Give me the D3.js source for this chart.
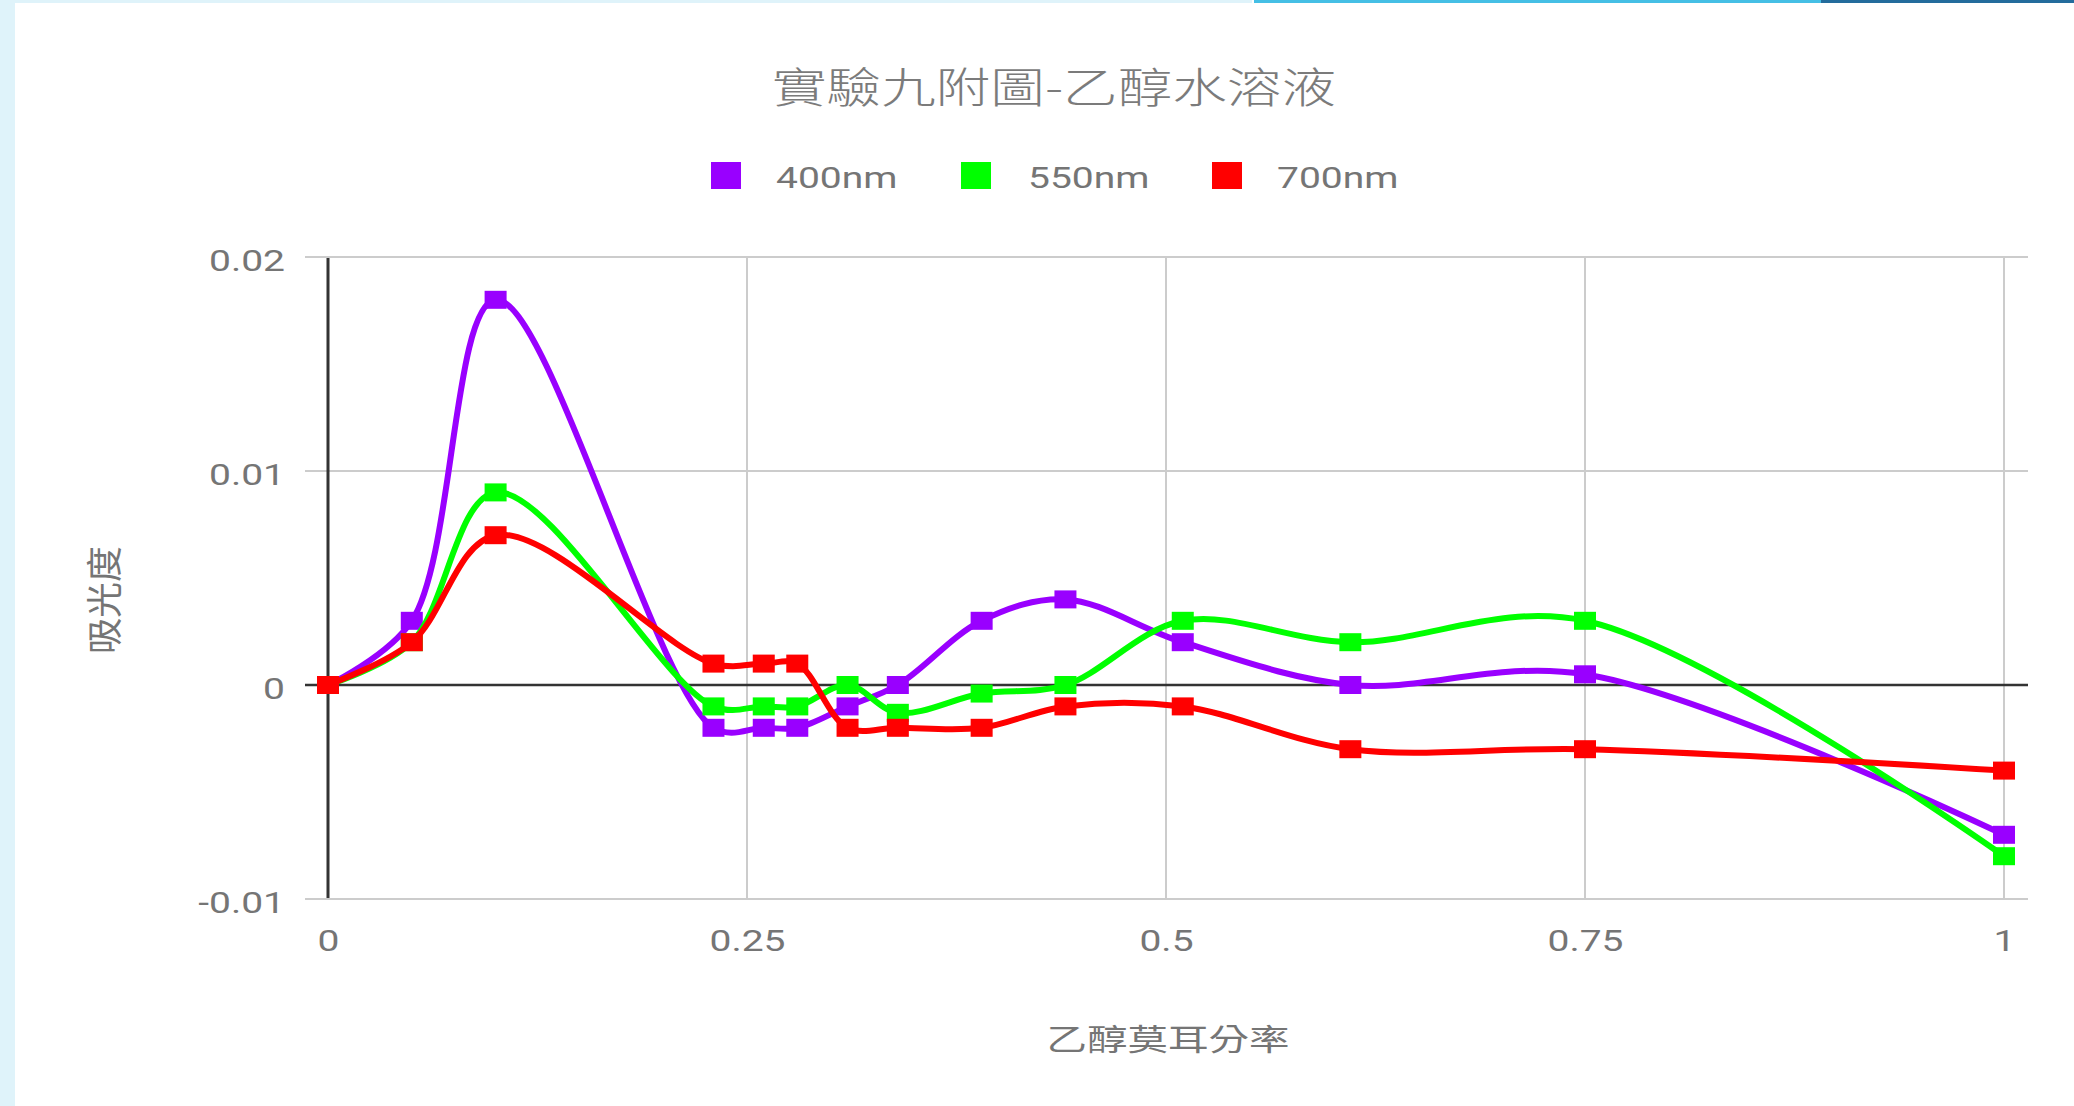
<!DOCTYPE html>
<html>
<head>
<meta charset="utf-8">
<script src="https://cdn.jsdelivr.net/npm/d3@7"></script>
<style>
  html, body { margin: 0; padding: 0; background: #ffffff; }
  svg { display: block; }
</style>
</head>
<body>
<script>
// Ethanol mole fraction (x) and absorbance readings at three wavelengths
const moleFraction = [0, 0.05, 0.10, 0.23, 0.26, 0.28, 0.31, 0.34, 0.39, 0.44, 0.51, 0.61, 0.75, 1];
const abs400 = [0, 0.003, 0.018, -0.002, -0.002, -0.002, -0.001, 0, 0.003, 0.004, 0.002, 0, 0.0005, -0.007];
const abs550 = [0, 0.002, 0.009, -0.001, -0.001, -0.001, 0, -0.0013, -0.0004, 0, 0.003, 0.002, 0.003, -0.008];
const abs700 = [0, 0.002, 0.007, 0.001, 0.001, 0.001, -0.002, -0.002, -0.002, -0.001, -0.001, -0.003, -0.003, -0.004];

const seriesNames = ["400nm", "550nm", "700nm"];
const seriesColors = ["#9900ff", "#00ff00", "#ff0000"];
const seriesValues = [abs400, abs550, abs700];

const xTickValues = [0, 0.25, 0.5, 0.75, 1];
const yTickValues = [-0.01, 0, 0.01, 0.02];

const chartTitle = "實驗九附圖-乙醇水溶液";
const xTitle = "乙醇莫耳分率";
const yTitle = "吸光度";

const W = 2074, H = 1106;
const STRETCH = 1.3;           // glyphs are drawn horizontally widened
const textGrey = "#757575";
const latin = "Roboto, 'Noto Sans', sans-serif";
const cjk = "'Noto Sans CJK TC', 'Noto Sans CJK SC', sans-serif";

const svg = d3.select("body").append("svg")
  .attr("width", W).attr("height", H);

// page frame strips
svg.append("rect").attr("x", 0).attr("y", 0).attr("width", 15).attr("height", H).attr("fill", "#dff3fa");
svg.append("rect").attr("x", 0).attr("y", 0).attr("width", 1252).attr("height", 3).attr("fill", "#dff3fa");
svg.append("rect").attr("x", 1254).attr("y", 0).attr("width", 567).attr("height", 3).attr("fill", "#45bfe5");
svg.append("rect").attr("x", 1821).attr("y", 0).attr("width", W - 1821).attr("height", 3).attr("fill", "#236c9c");

const x = d3.scaleLinear().domain([0, 1]).range([328, 2004]);
const y = d3.scaleLinear().domain([-0.01, 0.02]).range([899, 257]);

function stretchedText(g, px, py, str, opts) {
  return g.append("text")
    .attr("transform", `translate(${px},${py}) scale(${opts.sx || STRETCH},1)`)
    .attr("text-anchor", opts.anchor || "start")
    .attr("font-family", opts.family || latin)
    .attr("font-size", opts.size)
    .attr("font-weight", opts.weight || 400)
    .attr("fill", opts.fill || textGrey)
    .text(str);
}

// title
stretchedText(svg, 1054, 103, chartTitle, { anchor: "middle", family: cjk, size: 42, weight: 300, fill: "#7b7b7b" });

// legend
const legendSquareX = [711, 961, 1212];
const legendTextX = [776, 1028, 1277];
seriesNames.forEach((name, i) => {
  svg.append("rect")
    .attr("x", legendSquareX[i]).attr("y", 162)
    .attr("width", 30).attr("height", 27)
    .attr("fill", seriesColors[i]);
  stretchedText(svg, legendTextX[i], 188, name, { size: 30 });
});

// gridlines
const grid = svg.append("g");
grid.selectAll("line.h").data(yTickValues.filter(v => v !== 0)).join("line")
  .attr("x1", x(0) - 23).attr("x2", x(1) + 24)
  .attr("y1", d => y(d)).attr("y2", d => y(d))
  .attr("stroke", "#cccccc").attr("stroke-width", 2);
grid.selectAll("line.v").data(xTickValues.filter(v => v !== 0)).join("line")
  .attr("x1", d => x(d)).attr("x2", d => x(d))
  .attr("y1", y(0.02)).attr("y2", y(-0.01))
  .attr("stroke", "#cccccc").attr("stroke-width", 2);

// baselines
svg.append("line")
  .attr("x1", x(0) - 23).attr("x2", x(1) + 24)
  .attr("y1", y(0)).attr("y2", y(0))
  .attr("stroke", "#333333").attr("stroke-width", 2.5);
svg.append("line")
  .attr("x1", x(0)).attr("x2", x(0))
  .attr("y1", y(0.02) + 1).attr("y2", y(-0.01) - 1)
  .attr("stroke", "#333333").attr("stroke-width", 3);

// axis labels through d3 axes
const yAxis = svg.append("g")
  .attr("transform", "translate(285,0)")
  .call(d3.axisLeft(y).tickValues(yTickValues).tickSize(0)
    .tickFormat(d => String(+d.toFixed(3))));
yAxis.select(".domain").remove();
yAxis.selectAll("text")
  .attr("x", 0).attr("dy", null).attr("y", 13)
  .attr("text-anchor", "end")
  .attr("transform", `scale(${STRETCH},1)`)
  .attr("font-family", latin).attr("font-size", 30).attr("fill", textGrey);

const xAxis = svg.append("g")
  .attr("transform", "translate(0,951)")
  .call(d3.axisBottom(x).tickValues(xTickValues).tickSize(0)
    .tickFormat(d => String(d)));
xAxis.select(".domain").remove();
xAxis.selectAll("text")
  .attr("y", 0).attr("dy", null)
  .attr("text-anchor", "middle")
  .attr("transform", `scale(${STRETCH},1)`)
  .attr("font-family", latin).attr("font-size", 30).attr("fill", textGrey);

// axis titles
stretchedText(svg, 1168, 1050, xTitle, { anchor: "middle", family: cjk, size: 30, sx: 1.35 });
svg.append("text")
  .attr("transform", "translate(118,600) rotate(-90)")
  .attr("text-anchor", "middle")
  .attr("font-family", cjk).attr("font-size", 36)
  .attr("fill", textGrey)
  .text(yTitle);

// series lines and markers
const line = d3.line()
  .x(d => x(d[0]))
  .y(d => y(d[1]))
  .curve(d3.curveCatmullRom.alpha(0.5));

seriesValues.forEach((vals, i) => {
  const pts = moleFraction.map((m, j) => [m, vals[j]]);
  const g = svg.append("g");
  g.append("path")
    .attr("d", line(pts))
    .attr("fill", "none")
    .attr("stroke", seriesColors[i])
    .attr("stroke-width", 6)
    .attr("stroke-linejoin", "round");
  g.selectAll("rect").data(pts).join("rect")
    .attr("x", d => x(d[0]) - 11)
    .attr("y", d => y(d[1]) - 9)
    .attr("width", 22).attr("height", 18)
    .attr("fill", seriesColors[i]);
});
</script>
</body>
</html>
